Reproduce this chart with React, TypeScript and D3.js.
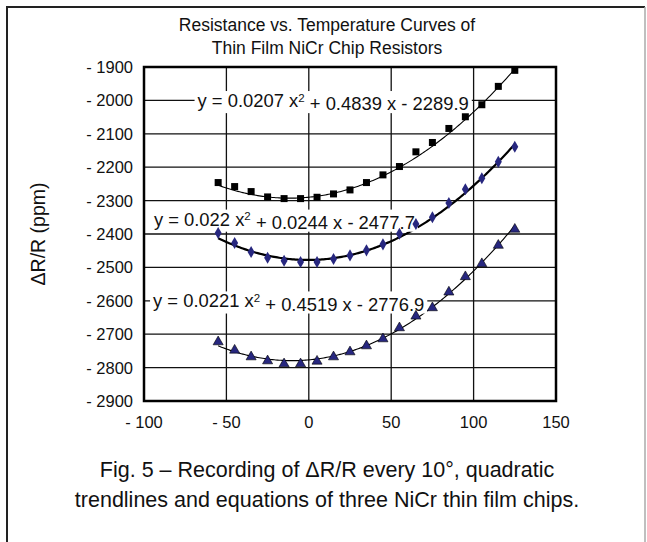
import React, { useEffect, useRef } from 'react';
import * as d3 from 'd3';

// temperatures (°C), readings every 10°
const temps = [-55, -45, -35, -25, -15, -5, 5, 15, 25, 35, 45, 55, 65, 75, 85, 95, 105, 115, 125];

// ΔR/R (ppm) for the three chips
const chipA = [-2246, -2258, -2273, -2289, -2294, -2294, -2290, -2280, -2268, -2246, -2223, -2198, -2154, -2126, -2084, -2049, -2013, -1958, -1910];
const chipB = [-2397, -2427, -2454, -2471, -2480, -2484, -2484, -2475, -2464, -2449, -2431, -2399, -2370, -2350, -2307, -2266, -2233, -2184, -2139];
const chipC = [-2720, -2745, -2765, -2777, -2786, -2786, -2778, -2765, -2750, -2732, -2711, -2678, -2643, -2618, -2571, -2525, -2486, -2431, -2383];

// quadratic trendline coefficients [a, b, c] as printed on the chart
const fitA = [0.0207, 0.4839, -2289.9];
const fitB = [0.022, 0.0244, -2477.7];
const fitC = [0.0221, 0.4519, -2776.9];

const xTicks = [-100, -50, 0, 50, 100, 150];
const yTicks = [-2900, -2800, -2700, -2600, -2500, -2400, -2300, -2200, -2100, -2000, -1900];

// equation label anchors in data units: [temp at left edge, ppm at centre]
const eqLabels = [
  { coef: fitA, at: [-67.5, -2000] },
  { coef: fitB, at: [-94, -2355] },
  { coef: fitC, at: [-94.5, -2600] },
];

const titleLines = ['Resistance vs. Temperature Curves of', 'Thin Film NiCr Chip Resistors'];
const captionLines = [
  'Fig. 5 \u2013 Recording of \u0394R/R every 10\u00b0, quadratic',
  'trendlines and equations of three NiCr thin film chips.',
];

const W = 647;
const H = 542;
const FONT = '"Liberation Sans", Arial, Helvetica, sans-serif';
const NAVY = '#27277f';

const fmt = (d: number) => (d < 0 ? `- ${Math.abs(d)}` : `${d}`);

const App: React.FC = () => {
  const svgRef = useRef<SVGSVGElement>(null);

  useEffect(() => {
    if (!svgRef.current) return;
    const svg = d3.select(svgRef.current);
    svg.selectAll('*').remove();

    const x = d3.scaleLinear().domain([-100, 150]).range([144, 556]);
    const y = d3.scaleLinear().domain([-2900, -1900]).range([401, 67]);

    svg.append('rect').attr('width', W).attr('height', H).attr('fill', '#fff');

    // outer frame
    svg.append('path').attr('d', `M7,${H + 5}V7H645`).attr('fill', 'none').attr('stroke', '#222').attr('stroke-width', 2);
    svg.append('line').attr('x1', 645).attr('x2', 645).attr('y1', 7).attr('y2', H + 5).attr('stroke', '#aaa').attr('stroke-width', 1.5);

    const g = svg.append('g').attr('font-family', FONT).attr('fill', '#111');

    // title
    g.selectAll('text.title')
      .data(titleLines)
      .join('text')
      .attr('class', 'title')
      .attr('x', 327)
      .attr('y', (_, i) => 31 + i * 23)
      .attr('text-anchor', 'middle')
      .attr('font-size', 17.5)
      .text(d => d);

    // grid
    const grid = g.append('g').attr('stroke', '#111').attr('stroke-width', 1.3);
    grid.selectAll('line.h')
      .data(yTicks)
      .join('line')
      .attr('x1', x(-100)).attr('x2', x(150))
      .attr('y1', d => y(d)).attr('y2', d => y(d));
    grid.selectAll('line.v')
      .data(xTicks)
      .join('line')
      .attr('class', 'v')
      .attr('y1', y(-2900)).attr('y2', y(-1900))
      .attr('x1', d => x(d)).attr('x2', d => x(d));

    g.append('rect')
      .attr('x', x(-100)).attr('y', y(-1900))
      .attr('width', x(150) - x(-100)).attr('height', y(-2900) - y(-1900))
      .attr('fill', 'none').attr('stroke', '#000').attr('stroke-width', 2.5);

    // tick labels
    g.selectAll('text.yt')
      .data(yTicks)
      .join('text')
      .attr('class', 'yt')
      .attr('x', x(-100) - 11)
      .attr('y', d => y(d))
      .attr('dy', '0.36em')
      .attr('text-anchor', 'end')
      .attr('font-size', 16.5)
      .text(fmt);
    g.selectAll('text.xt')
      .data(xTicks)
      .join('text')
      .attr('class', 'xt')
      .attr('x', d => x(d))
      .attr('y', y(-2900) + 21)
      .attr('dy', '0.36em')
      .attr('text-anchor', 'middle')
      .attr('font-size', 16.5)
      .text(fmt);

    // y axis title
    g.append('text')
      .attr('transform', `translate(45,${y(-2400)}) rotate(-90)`)
      .attr('text-anchor', 'middle')
      .attr('font-size', 19.5)
      .text('\u0394R/R (ppm)');

    // trendlines
    const curve = (c: number[]) => {
      const pts = d3.range(-55, 125.5, 1).map(t => [t, c[0] * t * t + c[1] * t + c[2]] as [number, number]);
      return d3.line<[number, number]>().x(d => x(d[0])).y(d => y(d[1]))(pts) || '';
    };
    [[fitA, 1.1], [fitB, 2.2], [fitC, 1.1]].forEach(([c, w]) => {
      g.append('path')
        .attr('d', curve(c as number[]))
        .attr('fill', 'none')
        .attr('stroke', '#000')
        .attr('stroke-width', w as number);
    });

    // equation labels with white backing
    eqLabels.forEach(({ coef, at }) => {
      const lg = g.append('g');
      const t = lg.append('text')
        .attr('x', x(at[0]))
        .attr('y', y(at[1]))
        .attr('dy', '0.36em')
        .attr('font-size', 18.4);
      t.append('tspan').text(`y = ${coef[0]} x`);
      t.append('tspan').attr('dy', '-0.45em').attr('font-size', 11.5).text('2');
      t.append('tspan').attr('dy', '0.45em').text(` + ${coef[1]} x - ${Math.abs(coef[2])}`);
      const bb = (t.node() as SVGTextElement).getBBox();
      lg.insert('rect', 'text')
        .attr('x', bb.x - 3).attr('y', bb.y + 1)
        .attr('width', bb.width + 6).attr('height', bb.height - 2)
        .attr('fill', '#fff');
    });

    // markers
    const pts = (vals: number[]) => temps.map((t, i) => ({ t, v: vals[i] }));
    g.append('g').selectAll('rect')
      .data(pts(chipA))
      .join('rect')
      .attr('x', d => x(d.t) - 3.5).attr('y', d => y(d.v) - 3.5)
      .attr('width', 7).attr('height', 7)
      .attr('fill', '#000');
    g.append('g').selectAll('path')
      .data(pts(chipB))
      .join('path')
      .attr('transform', d => `translate(${x(d.t)},${y(d.v)})`)
      .attr('d', d3.symbol().type(d3.symbolDiamond).size(42)())
      .attr('fill', NAVY);
    g.append('g').selectAll('path')
      .data(pts(chipC))
      .join('path')
      .attr('transform', d => `translate(${x(d.t)},${y(d.v) + 1})`)
      .attr('d', d3.symbol().type(d3.symbolTriangle).size(44)())
      .attr('fill', NAVY)
      .attr('stroke', '#000')
      .attr('stroke-width', 0.6);

    // caption
    g.selectAll('text.cap')
      .data(captionLines)
      .join('text')
      .attr('class', 'cap')
      .attr('x', 327)
      .attr('y', (_, i) => 477 + i * 30)
      .attr('text-anchor', 'middle')
      .attr('font-size', 21.5)
      .text(d => d);
  }, []);

  return (
    <svg
      ref={svgRef}
      width={W}
      height={H}
      style={{ position: 'absolute', left: 0, top: 0, display: 'block' }}
    />
  );
};

export default App;
